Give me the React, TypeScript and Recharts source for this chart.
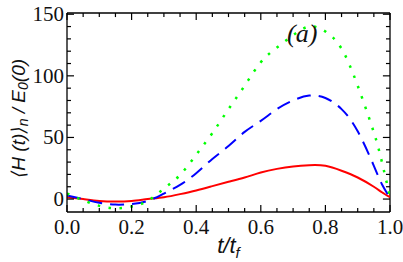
import React from 'react';
import { LineChart, Line, XAxis, YAxis, Label, ReferenceDot, ReferenceLine } from 'recharts';

// t / t_f sample points
const tValues = [0, 0.05, 0.1, 0.15, 0.2, 0.25, 0.3, 0.35, 0.4, 0.45, 0.5, 0.55, 0.6, 0.65, 0.7, 0.75, 0.8, 0.85, 0.9, 0.95, 0.975, 1];

const redSolid = [1.5, 0, -1.5, -2, -1.5, 0, 1.5, 4, 7, 10.5, 14, 17.5, 21.5, 24.5, 26.5, 27.5, 27, 23, 17.5, 10, 5.5, 1.5];
const blueDashed = [3, 0, -3, -4.5, -4, -1.5, 4.5, 11.5, 21, 32.5, 43, 54.5, 63.5, 73, 80, 84, 82, 73, 55, 27, 12, 1];
const greenDotted = [4.5, -1, -5.5, -7.5, -6, -1.5, 8.5, 19.5, 36, 53.5, 73, 92, 111, 123, 133, 140, 136, 122, 92, 54, 30, 2];

const xTicks = [0, 0.05, 0.1, 0.15, 0.2, 0.25, 0.3, 0.35, 0.4, 0.45, 0.5, 0.55, 0.6, 0.65, 0.7, 0.75, 0.8, 0.85, 0.9, 0.95, 1];
const yTicks = [0, 10, 20, 30, 40, 50, 60, 70, 80, 90, 100, 110, 120, 130, 140, 150];

const X_DOMAIN: [number, number] = [0, 1];
const Y_DOMAIN: [number, number] = [-10.5, 151];

const data = tValues.map((t, i) => ({
  t,
  red: redSolid[i],
  blue: blueDashed[i],
  green: greenDotted[i],
}));

const serif = '"Liberation Serif", "Times New Roman", serif';
const sans = '"Liberation Sans", "DejaVu Sans", sans-serif';

const isMajorX = (v: number) => Math.abs(v * 5 - Math.round(v * 5)) < 1e-6;
const isMajorY = (v: number) => Math.abs(v / 50 - Math.round(v / 50)) < 1e-6;

// inward tick lengths for the top / right frame, in data units (~7px major, ~4px minor)
const topTickLen = (t: number) => (isMajorX(t) ? 5.7 : 3.3);
const rightTickLen = (v: number) => (isMajorY(v) ? 0.022 : 0.0125);

const TICK_W = 1.2;

const XTick = (props: any) => {
  const { x, y, payload } = props;
  const v = payload.value;
  const major = isMajorX(v);
  return (
    <g>
      <line x1={x} x2={x} y1={y} y2={y - (major ? 7 : 4)} stroke="#000" strokeWidth={TICK_W} />
      {major && (
        <text x={x} y={y + 22} textAnchor="middle" fontFamily={serif} fontSize={21} fill="#111">
          {v.toFixed(1)}
        </text>
      )}
    </g>
  );
};

const YTick = (props: any) => {
  const { x, y, payload } = props;
  const v = payload.value;
  const major = isMajorY(v);
  return (
    <g>
      <line x1={x} x2={x + (major ? 7 : 4)} y1={y} y2={y} stroke="#000" strokeWidth={TICK_W} />
      {major && (
        <text x={x - 3} y={y + 7} textAnchor="end" fontFamily={serif} fontSize={21} fill="#111">
          {v}
        </text>
      )}
    </g>
  );
};

const YTitle = (props: any) => {
  const { viewBox } = props;
  const cx = viewBox.x + 18;
  const cy = viewBox.y + viewBox.height / 2 + 6;
  return (
    <text
      x={cx}
      y={cy}
      transform={`rotate(-90, ${cx}, ${cy})`}
      textAnchor="middle"
      dominantBaseline="central"
      fontFamily={sans}
      fontStyle="italic"
      fontSize={19}
      fill="#111"
    >
      {'\u27E8H (t)\u27E9'}
      <tspan dy={5} fontSize={14}>n</tspan>
      <tspan dy={-5}>{' / E'}</tspan>
      <tspan dy={5} fontSize={14}>0</tspan>
      <tspan dy={-5}>(0)</tspan>
    </text>
  );
};

const XTitle = (props: any) => {
  const { viewBox } = props;
  const cx = viewBox.x + viewBox.width / 2;
  return (
    <text x={cx} y={viewBox.y + 41} textAnchor="middle" fontFamily={sans} fontStyle="italic" fontSize={22} fill="#111">
      t/t
      <tspan dy={5} fontSize={15}>f</tspan>
    </text>
  );
};

const frameAxisLine = { stroke: '#000', strokeWidth: 1.3 };

const EnergyChart = () => {
  return (
    <div style={{ position: 'absolute', left: 0, top: 0 }}>
      <LineChart width={403} height={262} data={data} margin={{ top: 13, right: 13, left: 0, bottom: 0 }}>
        <XAxis
          dataKey="t"
          type="number"
          domain={X_DOMAIN}
          ticks={xTicks}
          interval={0}
          height={50}
          tickSize={0}
          tickMargin={0}
          tickLine={false}
          axisLine={frameAxisLine}
          tick={XTick}
          allowDataOverflow
        >
          <Label content={XTitle} />
        </XAxis>
        <YAxis
          type="number"
          domain={Y_DOMAIN}
          ticks={yTicks}
          interval={0}
          width={67}
          tickSize={0}
          tickMargin={0}
          tickLine={false}
          axisLine={frameAxisLine}
          tick={YTick}
          allowDataOverflow
        >
          <Label content={YTitle} />
        </YAxis>

        {/* top and right sides of the frame, with inward ticks */}
        <ReferenceLine y={Y_DOMAIN[1]} stroke="#000" strokeWidth={1.3} />
        <ReferenceLine x={X_DOMAIN[1]} stroke="#000" strokeWidth={1.3} />
        {xTicks.map((t) => (
          <ReferenceLine
            key={'tx' + t}
            segment={[{ x: t, y: Y_DOMAIN[1] }, { x: t, y: Y_DOMAIN[1] - topTickLen(t) }]}
            stroke="#000"
            strokeWidth={TICK_W}
          />
        ))}
        {yTicks.map((v) => (
          <ReferenceLine
            key={'ty' + v}
            segment={[{ x: X_DOMAIN[1], y: v }, { x: X_DOMAIN[1] - rightTickLen(v), y: v }]}
            stroke="#000"
            strokeWidth={TICK_W}
          />
        ))}

        <Line type="natural" dataKey="red" stroke="#ff0000" strokeWidth={2} dot={false} isAnimationActive={false} />
        <Line type="natural" dataKey="blue" stroke="#0000ff" strokeWidth={2} strokeDasharray="14 8" dot={false} isAnimationActive={false} />
        <Line type="natural" dataKey="green" stroke="#00ff00" strokeWidth={2.5} strokeDasharray="2.5 8.5" dot={false} isAnimationActive={false} />
        <ReferenceDot
          x={0.728}
          y={134.6}
          r={0}
          fill="none"
          stroke="none"
          label={{ value: '(a)', position: 'center', fontFamily: serif, fontStyle: 'italic', fontSize: 26, fill: '#111' }}
        />
      </LineChart>
    </div>
  );
};

export default EnergyChart;
